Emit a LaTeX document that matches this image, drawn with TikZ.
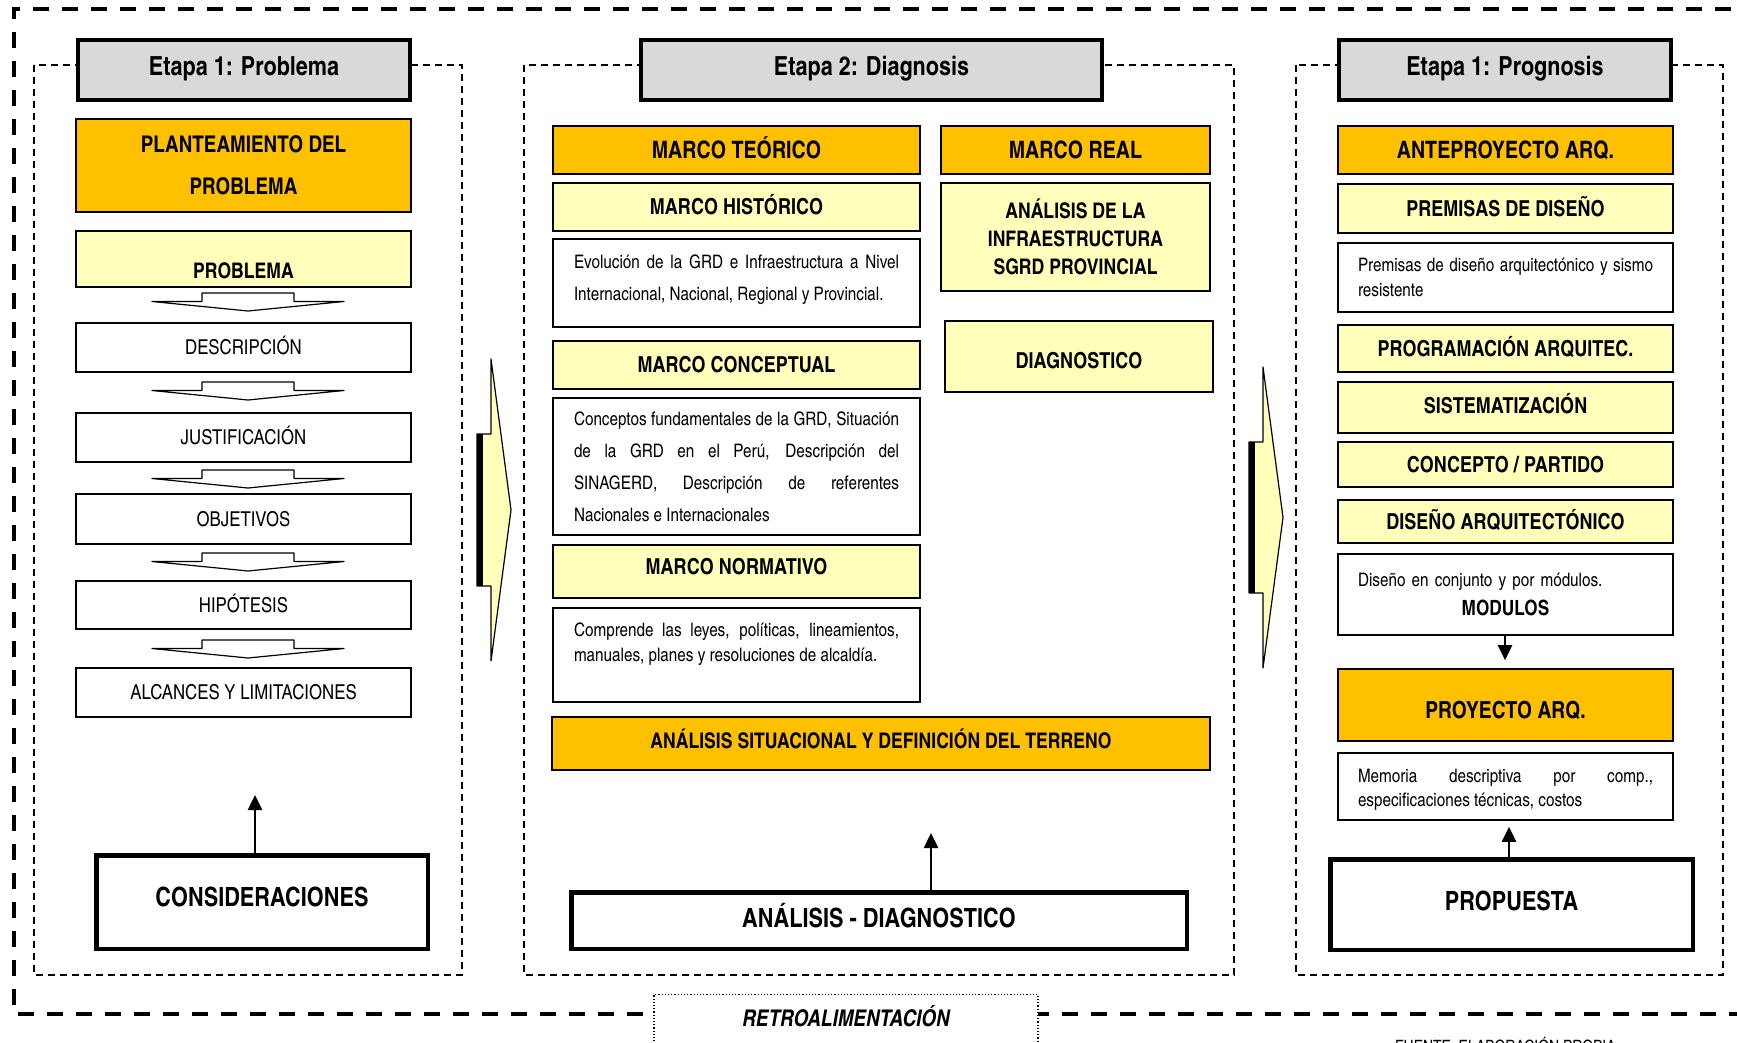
\documentclass[tikz,border=0pt]{standalone}
\usepackage{fontspec}
\setmainfont{texgyreheroscn}[Extension=.otf, UprightFont=*-regular, BoldFont=*-bold, ItalicFont=*-italic, BoldItalicFont=*-bolditalic]
\usetikzlibrary{arrows.meta,calc}
\definecolor{hdrorange}{HTML}{FFC000}
\definecolor{paleyellow}{HTML}{FFFFBB}
\definecolor{titlegray}{HTML}{D9D9D9}
\newcommand{\fsz}[2]{\fontsize{#1}{#2}\selectfont}
\hyphenpenalty=10000
\exhyphenpenalty=10000

\tikzset{
  every node/.style={inner sep=0pt},
  frame/.style={draw=black, line width=1.6pt},
  orangebox/.style={frame, fill=hdrorange, font=\bfseries\fsz{24}{29}, text height=17.2pt, text depth=0pt},
  yellowbox/.style={frame, fill=paleyellow, font=\bfseries\fsz{22}{27}, text height=15.8pt, text depth=0pt},
  plainbox/.style={frame, fill=white, font=\fsz{20.5}{25}, text height=14.7pt, text depth=0pt},
  notebox/.style={frame, fill=white, font=\fsz{18.6}{31.7}, inner xsep=21pt, align=justify},
  stagebox/.style={draw=black, line width=4pt, fill=titlegray, font=\bfseries\fsz{26.3}{31}, text height=18.9pt, text depth=8pt},
  heavybox/.style={draw=black, line width=4.5pt, fill=white, font=\bfseries\fsz{26.5}{31}, text height=19pt, text depth=6pt},
  panel/.style={draw=black, line width=1.5pt, dash pattern=on 7pt off 5pt},
  outerframe/.style={draw=black, line width=4pt, dash pattern=on 16pt off 13pt},
  link/.style={draw=black, line width=2.5pt, -{Triangle[length=15pt,width=14pt]}},
  sidearrow/.style={fill=paleyellow, draw=black, line width=1.2pt, line join=round},
  chev/.pic={\draw[line width=1.2pt, fill=white, line join=round]
      (-46,0) -- (46,0) -- (46,8.5) -- (96,8.5) -- (0,18) -- (-96,8.5) -- (-46,8.5) -- cycle;},
}

\begin{document}
\begin{tikzpicture}[x=1pt, y=-1pt]
\useasboundingbox (0,0) rectangle (1737,1043);

% outer feedback frame
\draw[outerframe] (1760,9) -- (14,9) -- (14,1014) -- (1760,1014);

% stage panels
\draw[panel] (34,65) rectangle (462,975);
\draw[panel] (524,65) rectangle (1234,975);
\draw[panel] (1296,65) rectangle (1723,975);

% stage titles
\node[stagebox, minimum width=332pt, minimum height=60pt] (t1) at (244,70) {Etapa 1: Problema};
\node[stagebox, minimum width=461pt, minimum height=60pt] (t2) at (871.5,70) {Etapa 2: Diagnosis};
\node[stagebox, minimum width=332pt, minimum height=60pt] (t3) at (1505,70) {Etapa 1: Prognosis};

% ---------- stage 1 ----------
\node[orangebox, font=\bfseries\fsz{23}{42}, align=center, text height=, text depth=,
      minimum width=335pt, minimum height=93pt] (plant) at (243.5,165.5) {PLANTEAMIENTO DEL\\PROBLEMA};
\node[yellowbox, font=\bfseries\fsz{21.5}{26}, text height=38pt, minimum width=335pt, minimum height=56pt] (prob) at (243.5,259) {PROBLEMA};
\node[plainbox, minimum width=335pt, minimum height=49pt] (desc) at (243.5,347.5) {DESCRIPCIÓN};
\node[plainbox, minimum width=335pt, minimum height=49pt] (just) at (243.5,437.5) {JUSTIFICACIÓN};
\node[plainbox, minimum width=335pt, minimum height=50pt] (obj) at (243.5,519) {OBJETIVOS};
\node[plainbox, minimum width=335pt, minimum height=48pt] (hip) at (243.5,605) {HIPÓTESIS};
\node[plainbox, minimum width=335pt, minimum height=49pt] (alc) at (243.5,692.5) {ALCANCES Y LIMITACIONES};

\pic at (248,293) {chev};
\pic at (248,382) {chev};
\pic at (248,470) {chev};
\pic at (248,553) {chev};
\pic at (248,640) {chev};

\node[heavybox, text depth=10pt, minimum width=331.5pt, minimum height=93.5pt] (cons) at (262,902) {CONSIDERACIONES};
\coordinate (consTip) at (255,795);
\draw[link] (consTip |- cons.north) -- (consTip);

% ---------- stage 2 ----------
\node[orangebox, minimum width=367pt, minimum height=48pt] (mt) at (736.5,150) {MARCO TEÓRICO};
\node[yellowbox, minimum width=367pt, minimum height=48pt] (mh) at (736.5,207) {MARCO HISTÓRICO};
\node[notebox, text width=325pt, text height=7.5pt, minimum height=88pt] (evo) at (736.5,283)
  {Evolución de la GRD e Infraestructura a Nivel\linebreak Internacional, Nacional, Regional y Provincial.};
\node[yellowbox, minimum width=367pt, minimum height=48pt] (mc) at (736.5,365) {MARCO CONCEPTUAL};
\node[notebox, font=\fsz{18.6}{32}, text width=325pt, minimum height=137pt] (conc) at (736.5,466.5)
  {Conceptos fundamentales de la GRD, Situación\linebreak de la GRD en el Perú, Descripción del\linebreak SINAGERD, Descripción de referentes\linebreak Nacionales e Internacionales};
\node[yellowbox, text depth=9pt, minimum width=367pt, minimum height=53pt] (mn) at (736.5,571.5) {MARCO NORMATIVO};
\node[notebox, font=\fsz{18.6}{25}, text width=325pt, minimum height=94pt] (comp) at (736.5,655)
  {Comprende las leyes, políticas, lineamientos,\linebreak manuales, planes y resoluciones de alcaldía.\par\mbox{}};

\node[orangebox, minimum width=269pt, minimum height=48pt] (mr) at (1075.5,150) {MARCO REAL};
\node[yellowbox, font=\bfseries\fsz{21.5}{28}, align=center, text height=, text depth=,
      minimum width=269pt, minimum height=108pt] (ai) at (1075.5,237) {ANÁLISIS DE LA\\INFRAESTRUCTURA\\SGRD PROVINCIAL};
\node[yellowbox, text height=24.8pt, minimum width=268pt, minimum height=71pt] (diag) at (1079,356.5) {DIAGNOSTICO};

\node[orangebox, font=\bfseries\fsz{21.5}{26}, text height=15.4pt, text depth=6pt, minimum width=658pt, minimum height=53pt] (as) at (881,743.5)
  {ANÁLISIS SITUACIONAL Y DEFINICIÓN DEL TERRENO};
\node[heavybox, text depth=5pt, minimum width=615.5pt, minimum height=56.5pt] (ad) at (879,920.5) {ANÁLISIS - DIAGNOSTICO};
\coordinate (adTip) at (931,833);
\draw[link] (adTip |- ad.north) -- (adTip);

% ---------- stage 3 ----------
\node[orangebox, minimum width=335pt, minimum height=48pt] (ap) at (1505.5,150) {ANTEPROYECTO ARQ.};
\node[yellowbox, minimum width=335pt, minimum height=49pt] (pd) at (1505.5,208.5) {PREMISAS DE DISEÑO};
\node[notebox, font=\fsz{18.6}{25}, inner xsep=20pt, text width=295pt, minimum height=69pt] (pt) at (1505.5,277.5)
  {Premisas de diseño arquitectónico y sismo\linebreak resistente};
\node[yellowbox, minimum width=335pt, minimum height=47pt] (pa) at (1505.5,348.5) {PROGRAMACIÓN ARQUITEC.};
\node[yellowbox, text depth=4pt, minimum width=335pt, minimum height=51pt] (si) at (1505.5,407.5) {SISTEMATIZACIÓN};
\node[yellowbox, minimum width=335pt, minimum height=45pt] (cp) at (1505.5,464.5) {CONCEPTO / PARTIDO};
\node[yellowbox, minimum width=335pt, minimum height=43pt] (da) at (1505.5,521.5) {DISEÑO ARQUITECTÓNICO};
\node[notebox, font=\fsz{18.6}{25}, align=left, inner xsep=20pt, text width=295pt, minimum height=81pt] (dm) at (1505.5,594.5)
  {Diseño en conjunto y por módulos.\par{\centering\bfseries\fsz{21}{29}MODULOS\par}};
\node[orangebox, font=\bfseries\fsz{23.5}{28}, text height=27.8pt, minimum width=335pt, minimum height=72pt] (pya) at (1505.5,705) {PROYECTO ARQ.};
\node[notebox, font=\fsz{18.6}{24}, inner xsep=20pt, text width=295pt, text height=20pt, minimum height=67pt] (mem) at (1505.5,786.5)
  {Memoria descriptiva por comp.,\linebreak especificaciones técnicas, costos};
\node[heavybox, text depth=7pt, minimum width=362.5pt, minimum height=90.5pt] (prop) at (1511.5,904.5) {PROPUESTA};

\coordinate (dmCol) at (1505,0);
\draw[link] (dm.south -| dmCol) -- ([yshift=8pt]pya.north -| dmCol);
\coordinate (propCol) at (1509,0);
\draw[link] (prop.north -| propCol) -- ([yshift=-6pt]mem.south -| propCol);

% ---------- transitions between stages ----------
\path[sidearrow] (491,359) -- (511,510) -- (491,661) -- (491,586) -- (477,586) -- (477,434) -- (491,434) -- cycle;
\fill[black] (477,434) rectangle (483,586);
\path[sidearrow] (1263,367) -- (1283,517.5) -- (1263,668) -- (1263,593) -- (1249,593) -- (1249,442) -- (1263,442) -- cycle;
\fill[black] (1249,442) rectangle (1255,593);

% ---------- feedback label and source ----------
\node[draw=black, dotted, line width=1.2pt, fill=white, anchor=north, minimum width=384pt, minimum height=76pt,
      font=\bfseries\itshape\fsz{23}{28}, text height=20pt, text depth=32pt] (retro) at (846,994) {RETROALIMENTACIÓN};
\node[anchor=north west, font=\fsz{17}{20}, text height=12.2pt, text depth=0pt] (src) at (1395,1040) {FUENTE: ELABORACIÓN PROPIA};
\end{tikzpicture}
\end{document}
